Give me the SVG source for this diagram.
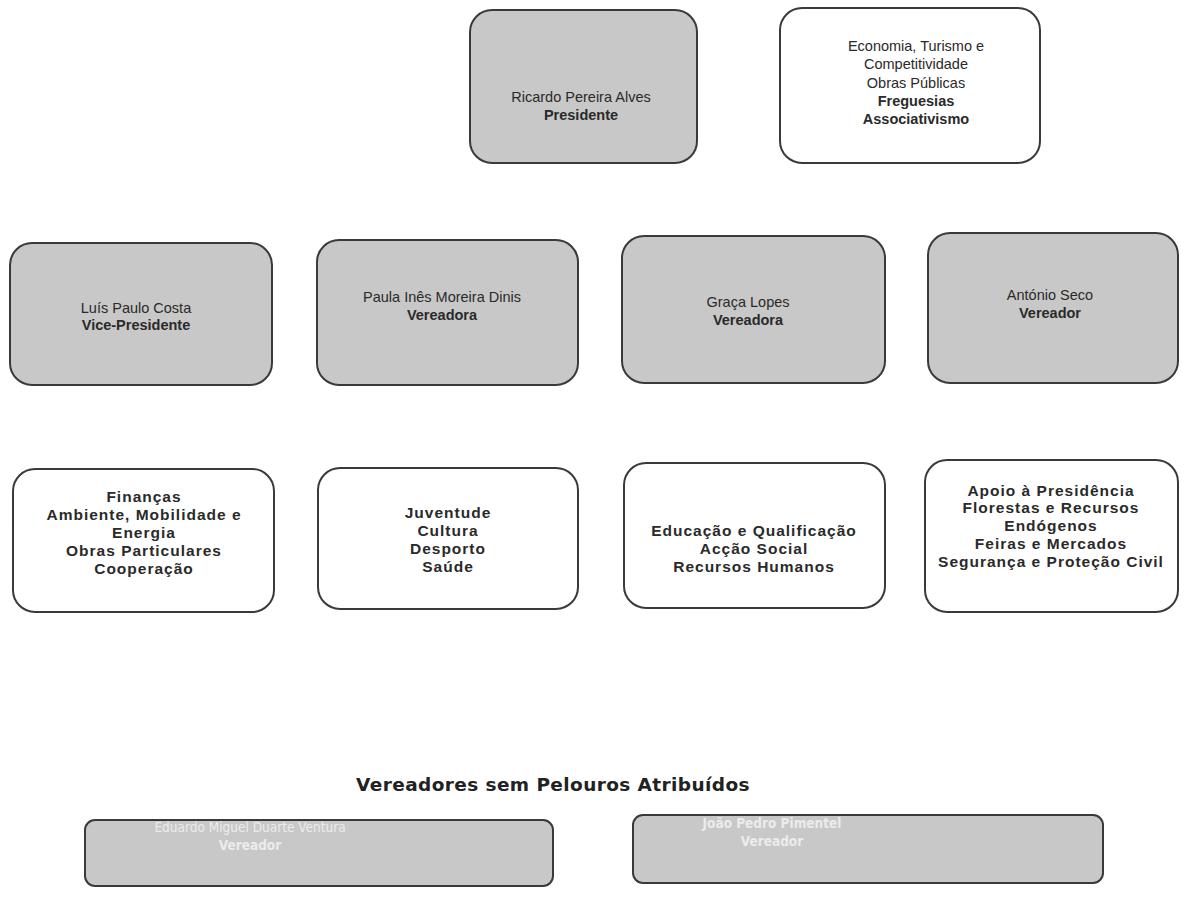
<svg xmlns="http://www.w3.org/2000/svg" width="1187" height="917" viewBox="0 0 1187 917">
<style>
.g{fill:#c8c8c8;stroke:#3a3a3a;stroke-width:2}
.w{fill:#ffffff;stroke:#3a3a3a;stroke-width:2}
.b{fill:#c8c8c8;stroke:#3a3a3a;stroke-width:2}
text{font-family:"Liberation Sans",Arial,sans-serif;text-anchor:middle;fill:#2a2a2a}
.n{font-size:14.5px}
.r{font-size:14.5px;font-weight:bold}
.p{font-size:15.5px;font-weight:bold;letter-spacing:1px}
.t{font-family:"DejaVu Sans",Verdana,sans-serif;font-size:18.5px;font-weight:bold;letter-spacing:0.4px;fill:#222}
.v{font-family:"DejaVu Sans Condensed","DejaVu Sans",sans-serif;font-size:13.5px;fill:#ececec}
.vb{font-family:"DejaVu Sans Condensed","DejaVu Sans",sans-serif;font-size:13.5px;font-weight:bold;fill:#ececec}
</style>
<g id="connectors"></g>
<g id="presidente">
<rect class="g" x="470" y="10" width="227" height="153" rx="22"/>
<text class="n" x="581" y="102">Ricardo Pereira Alves</text>
<text class="r" x="581" y="120">Presidente</text>
</g>
<g id="pelouros-presidente">
<rect class="w" x="780" y="8" width="260" height="155" rx="22"/>
<text class="n" x="916" y="51">Economia, Turismo e</text>
<text class="n" x="916" y="69">Competitividade</text>
<text class="n" x="916" y="88">Obras Públicas</text>
<text class="r" x="916" y="106">Freguesias</text>
<text class="r" x="916" y="124">Associativismo</text>
</g>
<g id="luis">
<rect class="g" x="10" y="243" width="262" height="142" rx="22"/>
<text class="n" x="136" y="313">Luís Paulo Costa</text>
<text class="r" x="136" y="330">Vice-Presidente</text>
</g>
<g id="paula">
<rect class="g" x="317" y="240" width="261" height="145" rx="22"/>
<text class="n" x="442" y="302">Paula Inês Moreira Dinis</text>
<text class="r" x="442" y="320">Vereadora</text>
</g>
<g id="graca">
<rect class="g" x="622" y="236" width="263" height="147" rx="22"/>
<text class="n" x="748" y="307">Graça Lopes</text>
<text class="r" x="748" y="325">Vereadora</text>
</g>
<g id="antonio">
<rect class="g" x="928" y="233" width="250" height="150" rx="22"/>
<text class="n" x="1050" y="300">António Seco</text>
<text class="r" x="1050" y="318">Vereador</text>
</g>
<g id="pelouros-luis">
<rect class="w" x="13" y="469" width="261" height="143" rx="22"/>
<text class="p" x="144" y="502">Finanças</text>
<text class="p" x="144" y="520">Ambiente, Mobilidade e</text>
<text class="p" x="144" y="538">Energia</text>
<text class="p" x="144" y="556">Obras Particulares</text>
<text class="p" x="144" y="574">Cooperação</text>
</g>
<g id="pelouros-paula">
<rect class="w" x="318" y="468" width="260" height="141" rx="22"/>
<text class="p" x="448" y="518">Juventude</text>
<text class="p" x="448" y="536">Cultura</text>
<text class="p" x="448" y="554">Desporto</text>
<text class="p" x="448" y="572">Saúde</text>
</g>
<g id="pelouros-graca">
<rect class="w" x="624" y="463" width="261" height="145" rx="22"/>
<text class="p" x="754" y="536">Educação e Qualificação</text>
<text class="p" x="754" y="554">Acção Social</text>
<text class="p" x="754" y="572">Recursos Humanos</text>
</g>
<g id="pelouros-antonio">
<rect class="w" x="925" y="460" width="253" height="152" rx="22"/>
<text class="p" x="1051" y="496">Apoio à Presidência</text>
<text class="p" x="1051" y="513">Florestas e Recursos</text>
<text class="p" x="1051" y="531">Endógenos</text>
<text class="p" x="1051" y="549">Feiras e Mercados</text>
<text class="p" x="1051" y="567">Segurança e Proteção Civil</text>
</g>
<g id="titulo">
<text class="t" x="553" y="791">Vereadores sem Pelouros Atribuídos</text>
</g>
<g id="eduardo">
<rect class="b" x="85" y="820" width="468" height="66" rx="10"/>
<text class="v" x="250" y="832">Eduardo Miguel Duarte Ventura</text>
<text class="vb" x="250" y="850">Vereador</text>
</g>
<g id="joao">
<rect class="b" x="633" y="815" width="470" height="68" rx="10"/>
<text class="vb" x="772" y="828">João Pedro Pimentel</text>
<text class="vb" x="772" y="846">Vereador</text>
</g>
</svg>
